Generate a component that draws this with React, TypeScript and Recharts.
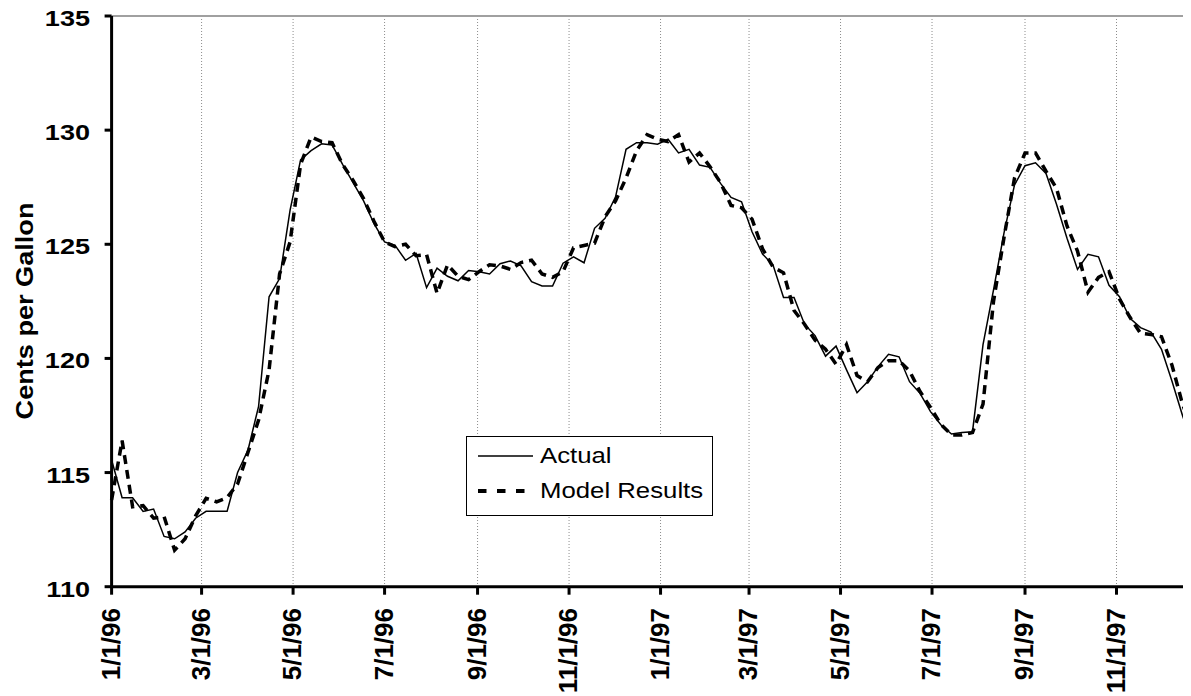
import React from "react"
import { LineChart, Line, XAxis, YAxis, CartesianGrid, ReferenceLine } from "recharts"

// weekly observations, Mondays starting 1/1/96
const startDate = Date.UTC(1996, 0, 1)
const DAY = 86400000

const tickLabels = [
  "1/1/96", "3/1/96", "5/1/96", "7/1/96", "9/1/96", "11/1/96",
  "1/1/97", "3/1/97", "5/1/97", "7/1/97", "9/1/97", "11/1/97",
]

const yTicks = [110, 115, 120, 125, 130, 135]

const actual = [
  115.55, 113.9, 113.9, 113.3, 113.4, 112.2, 112.1, 112.4, 113.0, 113.3,
  113.3, 113.3, 115.0, 116.0, 117.9, 122.7, 123.5, 126.5, 128.7, 129.1,
  129.4, 129.35, 128.5, 127.7, 126.9, 125.9, 125.1, 124.95, 124.3, 124.6,
  123.1, 123.95, 123.6, 123.4, 123.85, 123.8, 123.7, 124.15, 124.27, 124.06,
  123.36, 123.17, 123.17, 124.17, 124.45, 124.19, 125.7, 126.14, 127.08, 129.16,
  129.45, 129.45, 129.38, 129.6, 129.0, 129.16, 128.47, 128.37, 127.67, 127.05,
  126.86, 125.55, 124.57, 124.09, 122.67, 122.67, 121.5, 121.0, 120.1, 120.54,
  119.5, 118.5, 118.98, 119.64, 120.18, 120.07, 118.98, 118.47, 117.67, 117.08,
  116.69, 116.76, 116.79, 120.6, 123.0, 125.5, 127.6, 128.44, 128.57, 128.1,
  126.75, 125.26, 123.9, 124.56, 124.45, 123.2, 122.7, 121.76, 121.35, 121.15,
  120.4, 119.0, 117.5, 116.2,
]

const modelResults = [
  113.8, 116.4, 113.5, 113.55, 113.0, 113.07, 111.6, 112.1, 113.1, 113.87,
  113.72, 113.9, 114.5, 115.9, 117.3, 119.5, 123.7, 125.1, 128.5, 129.7,
  129.5, 129.45, 128.5, 127.8, 127.0, 126.0, 125.1, 124.9, 125.0, 124.5,
  124.55, 122.85, 124.1, 123.6, 123.45, 123.8, 124.1, 124.05, 123.9, 124.2,
  124.3, 123.7, 123.55, 123.8, 124.85, 124.95, 125.05, 126.2, 126.9, 127.9,
  129.1, 129.8, 129.6, 129.5, 129.8, 128.6, 129.0, 128.4, 127.7, 126.7,
  126.6, 126.1, 124.8, 124.0, 123.75, 122.1, 121.5, 120.8, 120.4, 119.75,
  120.6, 119.25, 118.98, 119.6, 119.9, 119.9, 119.45, 118.55, 117.85, 117.1,
  116.65, 116.65, 116.75, 118.0, 122.5, 125.3, 127.9, 129.0, 129.0, 128.2,
  127.45, 125.8, 124.7, 122.9, 123.55, 123.8, 122.6, 121.8, 121.1, 121.05,
  120.95, 119.7, 118.0, 116.8,
]

// days since 1/1/96 for a m/d/yy label
const toDay = (label: string) => {
  const [m, d, y] = label.split("/").map(Number)
  return Math.round((Date.UTC(1900 + y, m - 1, d) - startDate) / DAY)
}

const tickDays = tickLabels.map(toDay)

const data = actual.map((v, i) => ({
  day: i * 7,
  actual: v,
  model: modelResults[i],
}))

const FONT = "'Liberation Sans', Arial, sans-serif"

const YTick = ({ y, payload }: any) => (
  <text
    transform={`translate(82, ${y + 10}) scale(1.23, 1)`}
    textAnchor="end"
    fontSize={22}
    fontWeight="bold"
    fontFamily={FONT}
    fill="#000"
  >
    {payload.value}
  </text>
)

const XTick = ({ x, payload }: any) => {
  const idx = tickDays.indexOf(payload.value)
  return (
    <text
      transform={`translate(${x + 8}, 600) rotate(-90)`}
      textAnchor="end"
      fontSize={26}
      fontWeight="bold"
      fontFamily={FONT}
      fill="#000"
    >
      {tickLabels[idx]}
    </text>
  )
}

const YLabel = () => (
  <text
    transform="translate(25, 303) rotate(-90) scale(1.13, 1)"
    textAnchor="middle"
    fontSize={24}
    fontWeight="bold"
    fontFamily={FONT}
    fill="#000"
  >
    Cents per Gallon
  </text>
)

function ChartLegend() {
  return (
    <div
      style={{
        position: "absolute",
        left: 458,
        top: 428,
        width: 247,
        height: 80,
        boxSizing: "border-box",
        border: "1.5px solid #000",
        background: "#fff",
      }}
    >
      <svg width={245} height={77} style={{ display: "block" }}>
        <line x1={11} x2={66} y1={19} y2={19} stroke="#000" strokeWidth={1.5} />
        <text transform="translate(73, 26) scale(1.12, 1)" fontSize={23} fontFamily={FONT} fill="#000">
          Actual
        </text>
        <line x1={11} x2={68} y1={54} y2={54} stroke="#000" strokeWidth={4} strokeDasharray="8.5 10.5" />
        <text transform="translate(73, 61) scale(1.12, 1)" fontSize={23} fontFamily={FONT} fill="#000">
          Model Results
        </text>
      </svg>
    </div>
  )
}

export default function App() {
  return (
    <div style={{ position: "relative", width: 1183, height: 688, overflow: "hidden", background: "#fff" }}>
      <LineChart
        width={1185}
        height={688}
        data={data}
        margin={{ top: 8, right: 0, bottom: 0, left: 0 }}
      >
        <CartesianGrid horizontal={false} stroke="#8c8c8c" strokeDasharray="1 2" />
        <ReferenceLine y={135} stroke="#a0a0a0" strokeWidth={2} />
        <XAxis
          type="number"
          dataKey="day"
          domain={[0, 721]}
          ticks={tickDays}
          interval={0}
          height={109.3}
          tickSize={8}
          axisLine={{ stroke: "#000", strokeWidth: 3 }}
          tickLine={{ stroke: "#000", strokeWidth: 3 }}
          tick={<XTick />}
        />
        <YAxis
          domain={[110, 135]}
          ticks={yTicks}
          interval={0}
          width={103.6}
          tickSize={7}
          axisLine={{ stroke: "#000", strokeWidth: 3 }}
          tickLine={{ stroke: "#000", strokeWidth: 3 }}
          tick={<YTick />}
          label={{ content: () => <YLabel /> }}
        />
        <Line
          type="linear"
          dataKey="actual"
          stroke="#000"
          strokeWidth={1.5}
          dot={false}
          isAnimationActive={false}
        />
        <Line
          type="linear"
          dataKey="model"
          stroke="#000"
          strokeWidth={3.5}
          strokeDasharray="9 6"
          dot={false}
          isAnimationActive={false}
        />
      </LineChart>
      <ChartLegend />
    </div>
  )
}
